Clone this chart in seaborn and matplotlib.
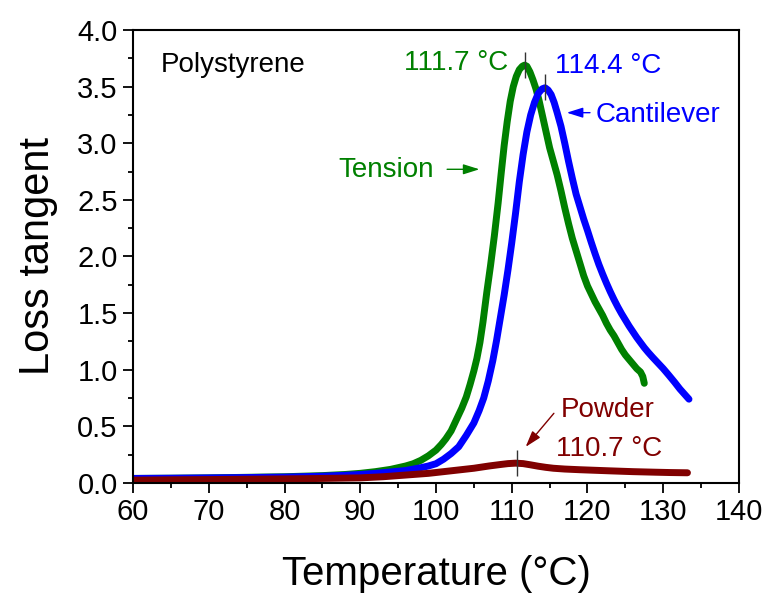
import numpy as np
import matplotlib
matplotlib.use("Agg")
import matplotlib.pyplot as plt
import seaborn as sns

sns.set_theme(style="ticks")
plt.rcParams['font.family'] = ['Liberation Sans', 'DejaVu Sans']

# tension (green)
tension_T = [60, 65, 70, 75, 80, 85, 88, 90, 92, 94, 96, 97, 98, 99, 100, 100.7, 101.3,
             102, 102.7, 103.4, 104, 104.5, 105, 105.4, 105.8, 106.2, 106.7, 107.2, 107.7,
             108.2, 108.6, 109.0, 109.4, 109.8, 110.2, 110.6, 111.0, 111.4, 111.7, 112.0,
             112.4, 112.8, 113.2, 113.6, 114.0, 114.5, 115.0, 115.5, 116.0, 116.5, 117.0,
             117.5, 118.0, 118.5, 119.0, 119.5, 120.0, 120.5, 121.0, 121.5, 122.0, 122.5,
             123.0, 123.5, 124.0, 124.5, 125.0, 125.5, 126.0, 126.5, 127.0, 127.3, 127.5]
tension_tan = [0.04, 0.042, 0.045, 0.05, 0.055, 0.065, 0.075, 0.085, 0.10, 0.12, 0.15, 0.17,
               0.20, 0.24, 0.29, 0.34, 0.39, 0.46, 0.56, 0.66, 0.76, 0.87, 0.99, 1.10, 1.24,
               1.42, 1.68, 1.92, 2.18, 2.47, 2.73, 2.98, 3.19, 3.37, 3.50, 3.59, 3.65, 3.68,
               3.69, 3.68, 3.63, 3.56, 3.48, 3.38, 3.26, 3.11, 2.96, 2.84, 2.72, 2.58, 2.43,
               2.29, 2.16, 2.05, 1.94, 1.83, 1.74, 1.67, 1.60, 1.54, 1.48, 1.41, 1.35, 1.30,
               1.24, 1.18, 1.13, 1.09, 1.05, 1.01, 0.98, 0.94, 0.88]

# cantilever (blue)
cant_T = [60, 65, 70, 75, 80, 85, 88, 90, 92, 94, 96, 98, 99, 100, 101, 102, 103, 104, 105,
          105.7, 106.3, 106.9, 107.5, 108, 108.5, 109, 109.5, 110, 110.5, 111, 111.5, 112,
          112.5, 113, 113.5, 114, 114.4, 114.8, 115.2, 115.6, 116.0, 116.5, 117.0, 117.5,
          118.0, 118.5, 119.0, 119.5, 120, 120.5, 121, 121.5, 122, 122.5, 123, 123.5, 124,
          124.5, 125, 125.5, 126, 126.5, 127, 127.5, 128, 128.6, 129.3, 130, 130.7, 131.5,
          132.2, 133.0, 133.4]
cant_tan = [0.04, 0.042, 0.045, 0.048, 0.052, 0.06, 0.068, 0.075, 0.085, 0.097, 0.11, 0.135,
            0.15, 0.17, 0.21, 0.26, 0.32, 0.42, 0.53, 0.64, 0.75, 0.90, 1.08, 1.26, 1.46,
            1.66, 1.88, 2.12, 2.38, 2.66, 2.90, 3.10, 3.25, 3.36, 3.44, 3.48, 3.49, 3.47,
            3.43, 3.36, 3.27, 3.15, 3.00, 2.84, 2.69, 2.55, 2.44, 2.33, 2.23, 2.125, 2.025,
            1.93, 1.845, 1.765, 1.69, 1.62, 1.555, 1.495, 1.44, 1.385, 1.335, 1.285, 1.24,
            1.195, 1.155, 1.11, 1.06, 1.01, 0.955, 0.89, 0.83, 0.77, 0.74]

# powder (maroon)
powder_T = [60, 65, 70, 75, 80, 85, 90, 93, 96, 99, 101, 103, 105, 107, 108.5, 109.5, 110.5,
            111.5, 112.5, 113.5, 114.5, 115.5, 117, 119, 121, 123, 126, 129, 131, 133.2]
powder_tan = [0.025, 0.028, 0.03, 0.033, 0.036, 0.04, 0.045, 0.055, 0.07, 0.085, 0.10, 0.115,
              0.13, 0.15, 0.163, 0.171, 0.175, 0.171, 0.16, 0.148, 0.138, 0.13, 0.123, 0.117,
              0.112, 0.107, 0.10, 0.095, 0.092, 0.09]

peaks_T = [111.7, 114.4, 110.7]
peaks_tan = [3.69, 3.49, 0.175]

green = '#008000'
blue = '#0000ff'
maroon = '#800000'

fig = plt.figure(figsize=(7.68, 5.99), dpi=100)
ax = fig.add_axes([0.1732, 0.1937, 0.7890, 0.7562])

sns.lineplot(x=tension_T, y=tension_tan, color=green, lw=5, ax=ax)
sns.lineplot(x=cant_T, y=cant_tan, color=blue, lw=5, ax=ax)
sns.lineplot(x=powder_T, y=powder_tan, color=maroon, lw=5, ax=ax)

# peak markers
for t, v in zip(peaks_T, peaks_tan):
    ax.vlines(t, v - 0.11, v + 0.12, color='#333333', lw=1)

ax.set_xlim(60, 140)
ax.set_ylim(0, 4.0)
ax.set_xticks(np.arange(60, 141, 10))
ax.set_xticks(np.arange(65, 140, 10), minor=True)
ax.set_yticks(np.arange(0, 4.01, 0.5))
ax.set_yticks(np.arange(0.25, 4.0, 0.5), minor=True)
ax.yaxis.set_major_formatter(matplotlib.ticker.FormatStrFormatter('%.1f'))

for s in ax.spines.values():
    s.set_linewidth(1.5)
    s.set_color('black')
ax.tick_params(which='major', length=7, width=1.3, labelsize=21, direction='out',
               colors='black', labelcolor='black', pad=4)
ax.tick_params(which='minor', length=3.6, width=1.3, direction='out', colors='black')

ax.set_xlabel('Temperature (°C)', fontsize=29, labelpad=21, color='black')
ax.set_ylabel('Loss tangent', fontsize=30, labelpad=14, color='black')

ax.text(63.6, 3.63, 'Polystyrene', fontsize=20, color='black', ha='left', va='baseline')
ax.text(109.6, 3.65, '111.7 °C', fontsize=20, color=green, ha='right', va='baseline')
ax.text(115.7, 3.62, '114.4 °C', fontsize=20, color=blue, ha='left', va='baseline')
ax.text(121.1, 3.19, 'Cantilever', fontsize=20, color=blue, ha='left', va='baseline')
ax.text(99.7, 2.70, 'Tension', fontsize=20, color=green, ha='right', va='baseline')
ax.text(116.5, 0.58, 'Powder', fontsize=20, color=maroon, ha='left', va='baseline')
ax.text(115.8, 0.24, '110.7 °C', fontsize=20, color=maroon, ha='left', va='baseline')

arrow_style = '-|>,head_length=0.7,head_width=0.22'
ax.annotate('', xy=(106.1, 2.77), xytext=(101.1, 2.77),
            arrowprops=dict(arrowstyle=arrow_style, color=green, lw=1, mutation_scale=14))
ax.annotate('', xy=(116.9, 3.27), xytext=(120.7, 3.27),
            arrowprops=dict(arrowstyle=arrow_style, color=blue, lw=1, mutation_scale=14))
ax.annotate('', xy=(111.6, 0.30), xytext=(115.8, 0.634),
            arrowprops=dict(arrowstyle=arrow_style, color=maroon, lw=1, mutation_scale=14))

fig.savefig('out.png', dpi=100)
